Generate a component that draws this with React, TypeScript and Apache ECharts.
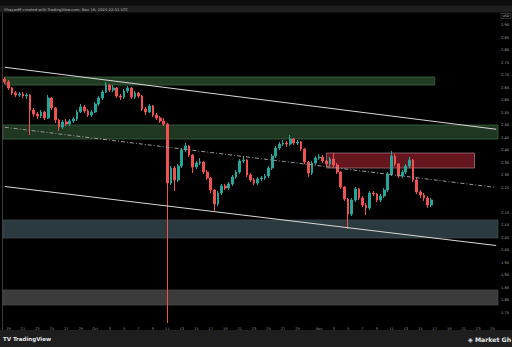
import React, { useEffect, useRef } from "react";
import * as echarts from "echarts";

// ---- data (12h candles, price in USD) ----
const firstOpen = 2.684;
const closes = [
  2.672, 2.648, 2.628, 2.620, 2.624, 2.616, 2.620, 2.560, 2.544, 2.536,
  2.552, 2.528, 2.608, 2.568, 2.520, 2.492, 2.512, 2.504, 2.516, 2.524,
  2.552, 2.572, 2.556, 2.540, 2.552, 2.584, 2.608, 2.632, 2.660, 2.640,
  2.648, 2.616, 2.612, 2.636, 2.648, 2.612, 2.628, 2.616, 2.564, 2.552,
  2.576, 2.540, 2.528, 2.516, 2.504, 2.268, 2.328, 2.280, 2.336, 2.400,
  2.416, 2.380, 2.332, 2.348, 2.352, 2.312, 2.288, 2.240, 2.184, 2.228,
  2.256, 2.248, 2.264, 2.292, 2.312, 2.356, 2.360, 2.300, 2.280, 2.268,
  2.284, 2.288, 2.296, 2.328, 2.376, 2.408, 2.424, 2.428, 2.424, 2.444,
  2.428, 2.432, 2.404, 2.352, 2.308, 2.348, 2.368, 2.372, 2.356, 2.344,
  2.364, 2.340, 2.312, 2.252, 2.204, 2.144, 2.200, 2.244, 2.208, 2.180,
  2.168, 2.228, 2.224, 2.200, 2.216, 2.240, 2.304, 2.376, 2.344, 2.296,
  2.312, 2.336, 2.360, 2.280, 2.232, 2.220, 2.208, 2.180, 2.200,
];
const highs = [
  2.692, 2.680, 2.652, 2.636, 2.632, 2.632, 2.628, 2.624, 2.568, 2.552,
  2.560, 2.556, 2.620, 2.612, 2.572, 2.524, 2.520, 2.524, 2.524, 2.532,
  2.560, 2.584, 2.580, 2.564, 2.560, 2.592, 2.616, 2.640, 2.672, 2.664,
  2.660, 2.652, 2.624, 2.644, 2.656, 2.652, 2.636, 2.632, 2.620, 2.572,
  2.584, 2.580, 2.548, 2.536, 2.528, 2.508, 2.336, 2.336, 2.344, 2.408,
  2.428, 2.420, 2.384, 2.356, 2.368, 2.356, 2.320, 2.292, 2.244, 2.236,
  2.264, 2.264, 2.272, 2.300, 2.320, 2.364, 2.376, 2.364, 2.308, 2.288,
  2.292, 2.296, 2.304, 2.336, 2.384, 2.416, 2.432, 2.440, 2.436, 2.460,
  2.448, 2.440, 2.436, 2.408, 2.356, 2.356, 2.376, 2.384, 2.380, 2.360,
  2.372, 2.388, 2.348, 2.316, 2.256, 2.208, 2.208, 2.252, 2.248, 2.216,
  2.188, 2.236, 2.236, 2.228, 2.224, 2.248, 2.312, 2.396, 2.384, 2.348,
  2.320, 2.344, 2.372, 2.364, 2.288, 2.240, 2.228, 2.216, 2.208,
];
const lows = [
  2.664, 2.640, 2.620, 2.612, 2.612, 2.608, 2.604, 2.460, 2.532, 2.524,
  2.528, 2.520, 2.524, 2.560, 2.508, 2.476, 2.484, 2.496, 2.496, 2.508,
  2.516, 2.548, 2.548, 2.532, 2.532, 2.548, 2.576, 2.600, 2.628, 2.632,
  2.632, 2.608, 2.600, 2.604, 2.628, 2.604, 2.604, 2.608, 2.556, 2.540,
  2.548, 2.532, 2.520, 2.508, 2.496, 1.708, 2.260, 2.236, 2.272, 2.328,
  2.392, 2.372, 2.308, 2.324, 2.340, 2.304, 2.280, 2.228, 2.156, 2.176,
  2.220, 2.240, 2.240, 2.256, 2.284, 2.304, 2.348, 2.292, 2.272, 2.260,
  2.260, 2.276, 2.280, 2.288, 2.320, 2.368, 2.400, 2.416, 2.412, 2.416,
  2.420, 2.420, 2.396, 2.344, 2.292, 2.300, 2.340, 2.360, 2.348, 2.336,
  2.336, 2.332, 2.304, 2.244, 2.196, 2.084, 2.136, 2.192, 2.200, 2.172,
  2.140, 2.160, 2.216, 2.192, 2.192, 2.208, 2.232, 2.296, 2.336, 2.288,
  2.288, 2.304, 2.328, 2.272, 2.224, 2.208, 2.196, 2.168, 2.172,
];

// trend lines: [startIndex, startValue, endIndex, endValue]
const upperLine = [0, 2.731, 136, 2.483];
const middleLine = [0, 2.491, 136, 2.25];
const lowerLine = [0, 2.254, 136, 2.018];

// zones: [fromIndex|null, toIndex|null, top, bottom]
const greenUpperZone = [0, 119, 2.692, 2.66];
const greenMiddleZone = [null, null, 2.5, 2.444];
const redZone = [89, 130, 2.388, 2.328];
const tealZone = [null, null, 2.12, 2.048];
const grayZone = [null, null, 1.84, 1.78];

const yMin = 1.7;
const yMax = 2.95;
const yStep = 0.05;
const totalSlots = 137;
const monthNames = ["Jan", "Feb", "Mar", "Apr", "May", "Jun", "Jul", "Aug", "Sep", "Oct", "Nov", "Dec"];
const startTime = Date.UTC(2024, 8, 18, 12);
const countdown = "07:08";

const categories: string[] = [];
for (let i = 0; i < totalSlots; i++) {
  const d = new Date(startTime + i * 12 * 3600 * 1000);
  categories.push(d.toISOString());
}

const labelFor = (iso: string): string | null => {
  const d = new Date(iso);
  if (d.getUTCHours() !== 0) return null;
  const day = d.getUTCDate();
  if (day % 2 === 0) return null;
  if (day === 31) return null;
  if (day === 1) return monthNames[d.getUTCMonth()];
  return String(day);
};

const opens = [firstOpen, ...closes.slice(0, -1)];
const candleData = closes.map((c, i) => [opens[i], c, lows[i], highs[i]]);

function zoneItem(z: (number | null)[], fill: string, border: string) {
  const style = { color: fill, borderColor: border, borderWidth: 0.8 };
  if (z[0] === null) {
    return [{ yAxis: z[2], itemStyle: style }, { yAxis: z[3] }];
  }
  return [{ coord: [z[0], z[2]], itemStyle: style }, { coord: [z[1], z[3]] }];
}

function lineItem(l: number[], color: string, type: any) {
  return [
    { coord: [l[0], l[1]], lineStyle: { color, width: 1, type } },
    { coord: [l[2], l[3]] },
  ];
}

export default function App() {
  const ref = useRef<HTMLDivElement>(null);
  useEffect(() => {
    if (!ref.current) return;
    const chart = echarts.init(ref.current, null, { renderer: "svg" });
    const font = "DejaVu Sans";
    const last = closes[closes.length - 1];
    chart.setOption({
      animation: false,
      backgroundColor: "#000",
      textStyle: { fontFamily: font },
      grid: { left: 3, right: 12, top: 12.5, bottom: 22 },
      graphic: [
        { type: "rect", shape: { x: 0, y: 0, width: 512, height: 5.5 }, style: { fill: "#0d0d0d" }, silent: true },
        { type: "rect", shape: { x: 0, y: 5.5, width: 512, height: 7 }, style: { fill: "#1f1f1f" }, silent: true },
        {
          type: "text", x: 4, y: 9, silent: true,
          style: { text: "ShayanM created with TradingView.com, Nov 16, 2024 22:51 UTC", fill: "#b5b5b5", fontSize: 3.8, fontFamily: font, verticalAlign: "middle" },
        },
        { type: "line", shape: { x1: 2.5, y1: 12.5, x2: 2.5, y2: 330 }, style: { stroke: "#3a3a3a", lineWidth: 1 }, silent: true },
        { type: "rect", shape: { x: 501, y: 13.5, width: 10, height: 5 }, style: { fill: "#000", stroke: "#666", lineWidth: 0.5 }, silent: true },
        { type: "text", x: 506, y: 16, silent: true, style: { text: "USD", fill: "#ccc", fontSize: 3.2, fontFamily: font, align: "center", verticalAlign: "middle" } },
        { type: "rect", shape: { x: 0, y: 330, width: 512, height: 17 }, style: { fill: "#1e1e1e" }, silent: true },
        {
          type: "text", x: 3, y: 338.5, silent: true,
          style: { text: "TV TradingView", fill: "#e6e6e6", fontSize: 5.5, fontWeight: "bold", fontFamily: font, verticalAlign: "middle" },
        },
        {
          type: "text", x: 468, y: 339.5, silent: true,
          style: { text: "◈ Market Gh", fill: "#e6e6e6", fontSize: 6.2, fontWeight: "bold", fontFamily: font, verticalAlign: "middle" },
        },
      ],
      xAxis: {
        type: "category",
        data: categories,
        boundaryGap: true,
        axisLine: { show: false },
        axisTick: { show: false },
        splitLine: { show: false },
        axisLabel: {
          interval: (_i: number, v: string) => labelFor(v) !== null,
          formatter: (v: string) => labelFor(v) ?? "",
          color: "#8a8a8a",
          fontSize: 3.6,
          margin: 1.5,
        },
      },
      yAxis: {
        type: "value",
        position: "right",
        min: yMin,
        max: yMax,
        interval: yStep,
        axisLine: { show: false },
        axisTick: { show: false },
        splitLine: { show: false },
        axisLabel: {
          color: "#a8a8a8",
          fontSize: 3.6,
          margin: 3,
          showMinLabel: false,
          showMaxLabel: false,
          formatter: (v: number) => (Math.abs(v - last) < 0.03 ? "" : v.toFixed(2)),
        },
      },
      series: [
        {
          type: "candlestick",
          data: candleData,
          barWidth: "62%",
          itemStyle: {
            color: "#26a69a",
            color0: "#ef5350",
            borderColor: "#26a69a",
            borderColor0: "#ef5350",
            borderWidth: 1,
          },
          markArea: {
            silent: true,
            data: [
              zoneItem(greenUpperZone, "rgba(40,72,42,0.85)", "#3f6541"),
              zoneItem(greenMiddleZone, "rgba(36,64,38,0.85)", "#3f6541"),
              zoneItem(redZone, "rgba(120,26,36,0.85)", "#a07078"),
              zoneItem(tealZone, "#2b3a3e", "#3c4c50"),
              zoneItem(grayZone, "#3b3b3b", "#4a4a4a"),
            ],
          },
          markLine: {
            silent: true,
            symbol: ["none", "none"],
            label: { show: false },
            data: [
              lineItem(upperLine, "#d8d8d8", "solid"),
              lineItem(middleLine, "#9a9a9a", [4, 2, 1, 2]),
              lineItem(lowerLine, "#d8d8d8", "solid"),
              {
                yAxis: last,
                lineStyle: { opacity: 0 },
                label: {
                  show: true,
                  position: "end",
                  distance: 0.5,
                  formatter: last.toFixed(3) + "\n" + countdown,
                  backgroundColor: "#e8414f",
                  color: "#fff",
                  fontSize: 3,
                  lineHeight: 4,
                  padding: [1, 1],
                  fontFamily: font,
                },
              },
            ],
          },
        },
      ],
    });
    return () => chart.dispose();
  }, []);
  return (
    <div
      ref={ref}
      style={{ position: "absolute", left: 0, top: 0, width: 512, height: 347, background: "#000" }}
    />
  );
}
